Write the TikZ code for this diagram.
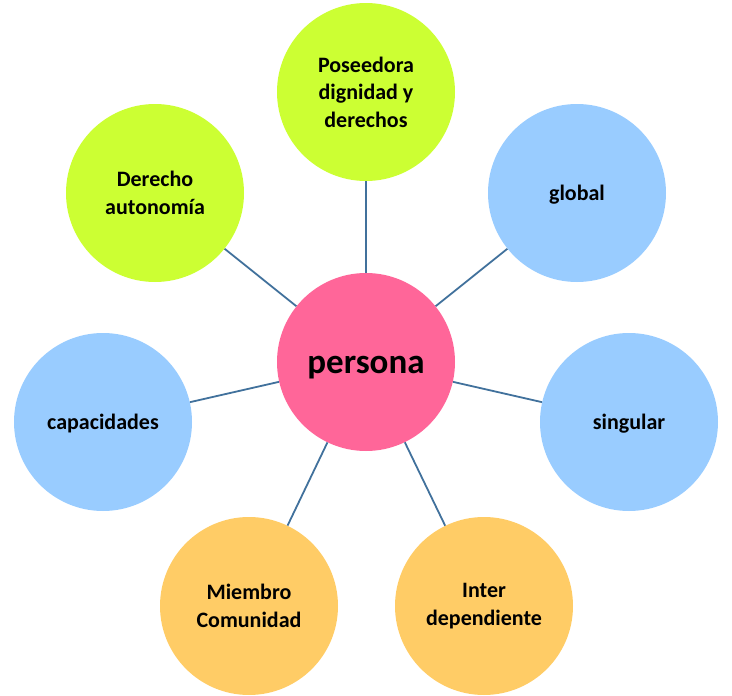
\documentclass[tikz,border=0pt]{standalone}
\usepackage{fontspec}
\setmainfont{Carlito}
\definecolor{cgreen}{HTML}{CCFF33}
\definecolor{cblue}{HTML}{99CCFF}
\definecolor{corange}{HTML}{FFCC66}
\definecolor{cpink}{HTML}{FF6699}
\definecolor{cline}{HTML}{41719C}
\begin{document}
\begin{tikzpicture}[x=1pt,y=-1pt,
  bubble/.style={circle,minimum size=178pt,inner sep=0pt,align=center,
    font=\fontsize{22}{27.5}\selectfont\bfseries},
  low/.style={yshift=-2pt},
  link/.style={draw=cline,line width=1.8pt}]
\useasboundingbox (0,0) rectangle (732,696);
\node[bubble,fill=cpink,label={[font=\fontsize{35}{40}\selectfont\bfseries,yshift=-6pt]center:persona}] (p) at (366,362) {};
\node[bubble,fill=cgreen] (pos) at (366,92) {Poseedora\\dignidad y\\derechos};
\node[bubble,fill=cgreen] (der) at (155,193) {Derecho\\autonomía};
\node[bubble,fill=cblue,label={[font=\fontsize{22}{27.5}\selectfont\bfseries,low]center:global}] (glo) at (577,193) {};
\node[bubble,fill=cblue,label={[font=\fontsize{22}{27.5}\selectfont\bfseries,low]center:capacidades}] (cap) at (103,422) {};
\node[bubble,fill=cblue,label={[font=\fontsize{22}{27.5}\selectfont\bfseries,low]center:singular}] (sin) at (629,422) {};
\node[bubble,fill=corange] (mie) at (249,606) {Miembro\\Comunidad};
\node[bubble,fill=corange] (int) at (484,606) {Inter\\dependiente};
\foreach \n in {pos,der,glo,cap,sin,mie,int}
  \draw[link] (p) -- (\n);
\end{tikzpicture}
\end{document}
